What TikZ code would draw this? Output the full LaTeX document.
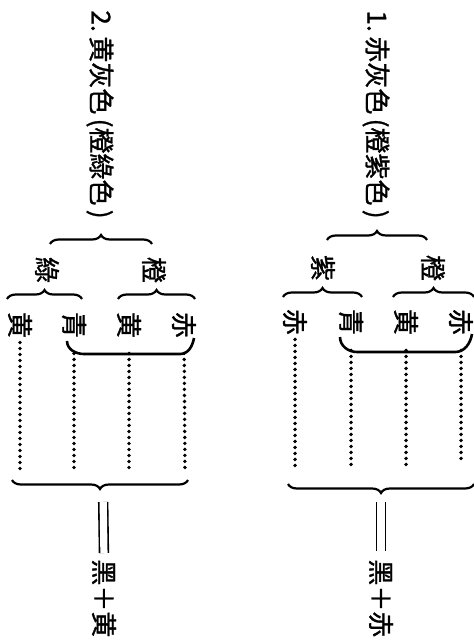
\documentclass[tikz,border=0pt]{standalone}
\usepackage{fontspec}
\newfontfamily\cjk[FakeBold=1.2]{Noto Sans CJK TC}
\usetikzlibrary{decorations.pathreplacing}
\tikzset{
  vtext/.style={rotate=-90, font=\cjk\fontsize{13}{13}\selectfont, inner sep=1pt},
  grp/.style={decorate, decoration={brace, amplitude=4.5pt}, line width=1.1pt},
  paren/.style={line width=1.3pt},
  dots/.style={line width=1.9pt, line cap=round, dash pattern=on 0pt off 3pt},
  equal/.style={double, double distance=3.6pt, line width=0.8pt},
}
\begin{document}
\begin{tikzpicture}[x=0.5pt,y=0.5pt]
\useasboundingbox (0,0) rectangle (474,-640);

% 1. red grey
\node[vtext, anchor=west] (title1) at (376,-8) {1.\,赤灰色\,(橙紫色\,)};
\draw[grp] (327,-240) -- (427,-240);
\node[vtext] (orange1) at (433,-268) {橙};
\node[vtext] (purple1) at (323,-268) {紫};
\draw[grp] (393,-297) -- (474,-297);
\draw[grp] (283,-297) -- (362,-297);

% leaves
\node[vtext] (redA1) at (295,-322) {赤};
\node[vtext] (blue1) at (351,-322) {青};
\node[vtext] (yellow1) at (406,-322) {黄};
\node[vtext] (redB1) at (461,-322) {赤};
\draw[paren] (340,-337) to[out=-90,in=180] (357,-352) -- (455,-352) to[out=0,in=-100] (472,-334);

% dotted lines
\coordinate (endA1) at (295,-470);
\coordinate (endB1) at (351,-470);
\coordinate (endC1) at (406,-468);
\coordinate (endD1) at (461,-462);
\draw[dots, shorten <=1pt] (redA1) -- (endA1);
\draw[dots, shorten <=6.5pt] (blue1) -- (endB1);
\draw[dots, shorten <=6.5pt] (yellow1) -- (endC1);
\draw[dots, shorten <=6.5pt] (redB1) -- (endD1);

% sum
\draw[grp] (474,-484) -- (288,-484);
\coordinate (sum1) at (381,-494);
\node[vtext, anchor=west] (res1) at (381,-557) {黑＋赤};
\draw[equal, shorten <=4pt, shorten >=3pt] (sum1) -- (res1.west);

% 2. yellow grey
\node[vtext, anchor=west] (title2) at (100,-8) {2.\,黄灰色\,(橙綠色\,)};
\draw[grp] (50,-244) -- (152,-244);
\node[vtext] (orange2) at (154,-270) {橙};
\node[vtext] (green2) at (47,-270) {綠};
\draw[grp] (118,-299) -- (195,-299);
\draw[grp] (7,-299) -- (82,-299);

% leaves
\node[vtext] (yellowA2) at (20,-325) {黄};
\node[vtext] (blue2) at (74,-325) {青};
\node[vtext] (yellowB2) at (129,-325) {黄};
\node[vtext] (red2) at (184,-325) {赤};
\draw[paren] (67,-341) to[out=-90,in=180] (84,-354) -- (180,-354) to[out=0,in=-100] (194,-338);

% dotted lines
\coordinate (endA2) at (20,-471);
\coordinate (endB2) at (74,-472);
\coordinate (endC2) at (129,-472);
\coordinate (endD2) at (185,-472);
\draw[dots, shorten <=1pt] (yellowA2) -- (endA2);
\draw[dots, shorten <=6.5pt] (blue2) -- (endB2);
\draw[dots, shorten <=6.5pt] (yellowB2) -- (endC2);
\draw[dots, shorten <=6.5pt] (red2) -- (endD2);

% sum
\draw[grp] (188,-480) -- (12,-480);
\coordinate (sum2) at (103,-490);
\node[vtext, anchor=west] (res2) at (104,-557) {黑＋黄};
\draw[equal, shorten <=6pt, shorten >=2pt] (sum2) -- (res2.west);
\end{tikzpicture}
\end{document}
